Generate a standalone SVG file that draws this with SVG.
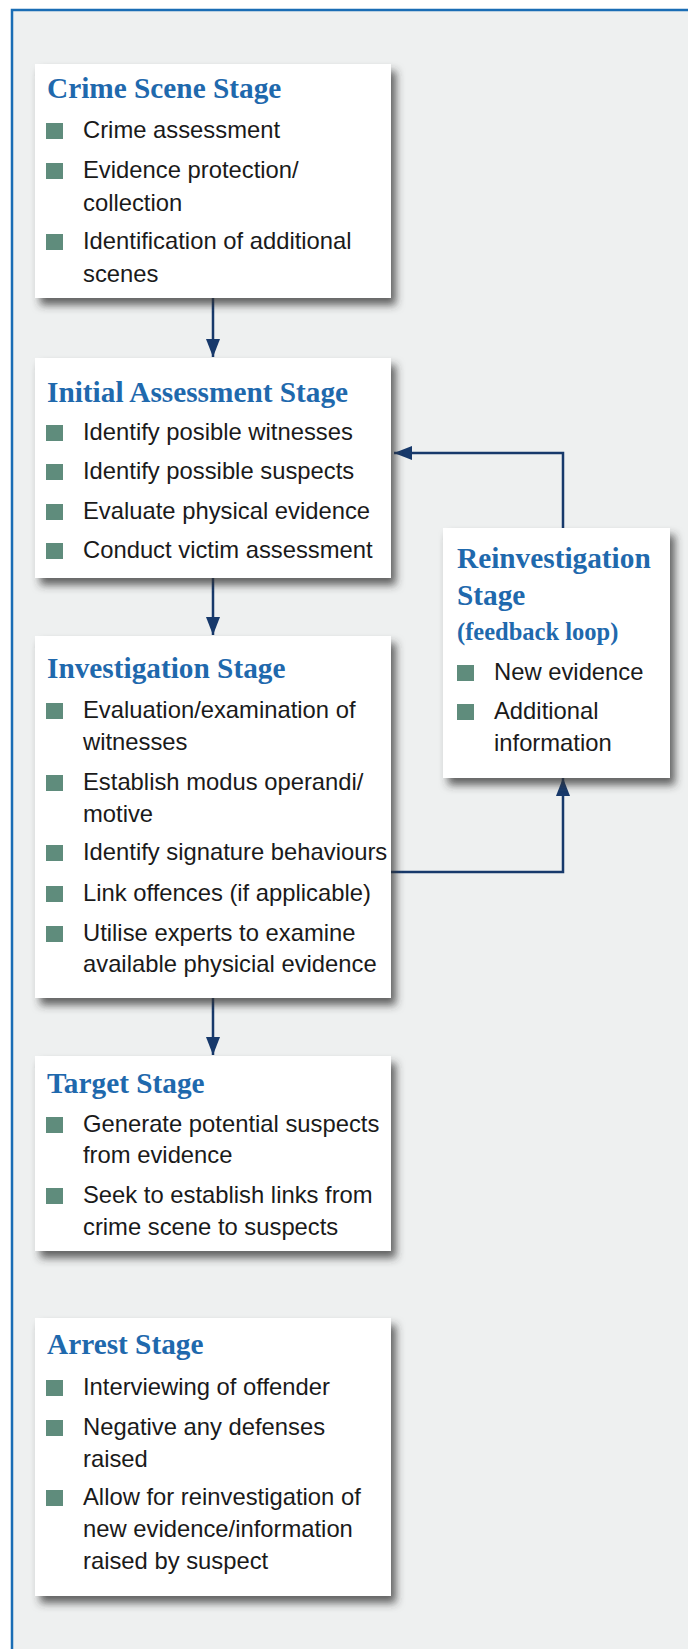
<svg xmlns="http://www.w3.org/2000/svg" width="688" height="1649" viewBox="0 0 688 1649">
<defs>
<style>
.bg{fill:#eef0f0}
.frame{fill:none;stroke:#1a6db5;stroke-width:2.5}
.box{fill:#ffffff;filter:url(#sh)}
.title{font-family:"Liberation Serif",serif;font-weight:bold;font-size:29.3px;fill:#1f69ad}
.sub{font-family:"Liberation Serif",serif;font-weight:bold;font-size:24.5px;fill:#1f69ad}
.t{font-family:"Liberation Sans",Arial,sans-serif;font-size:23.8px;fill:#1a1a1a}
.b{fill:#5f8c7c}
.con{fill:none;stroke:#17396b;stroke-width:2.5}
</style>
<filter id="sh" x="-10%" y="-10%" width="130%" height="130%">
<feDropShadow dx="5" dy="7" stdDeviation="4" flood-color="#333333" flood-opacity="0.75"/>
</filter>
<marker id="arr" markerUnits="userSpaceOnUse" markerWidth="20" markerHeight="16" refX="18" refY="7" orient="auto">
<path d="M0,0 L18,7 L0,14 Z" fill="#17396b"/>
</marker>
</defs>
<rect x="0" y="0" width="688" height="1649" fill="#ffffff"/>
<rect class="bg" x="12" y="10" width="676" height="1639"/>
<path class="frame" d="M12,1649 V10 H688"/>

<g id="connectors">
<path class="con" d="M213,298 V357" marker-end="url(#arr)"/>
<path class="con" d="M213,578 V635" marker-end="url(#arr)"/>
<path class="con" d="M213,998 V1055" marker-end="url(#arr)"/>
<path class="con" d="M391,872 H563 V778" marker-end="url(#arr)"/>
<path class="con" d="M563,528 V453 H394" marker-end="url(#arr)"/>
</g>

<g id="crime-scene">
<rect class="box" x="35" y="64" width="356" height="234"/>
<text class="title" x="47" y="98">Crime Scene Stage</text>
<rect class="b" x="46" y="123" width="17" height="16"/>
<text class="t" x="83" y="138">Crime assessment</text>
<rect class="b" x="46" y="163" width="17" height="16"/>
<text class="t" x="83" y="178">Evidence protection/</text>
<text class="t" x="83" y="211">collection</text>
<rect class="b" x="46" y="234" width="17" height="16"/>
<text class="t" x="83" y="249">Identification of additional</text>
<text class="t" x="83" y="282">scenes</text>
</g>

<g id="initial-assessment">
<rect class="box" x="35" y="358" width="356" height="220"/>
<text class="title" x="47" y="402">Initial Assessment Stage</text>
<rect class="b" x="46" y="425" width="17" height="16"/>
<text class="t" x="83" y="440">Identify posible witnesses</text>
<rect class="b" x="46" y="464" width="17" height="16"/>
<text class="t" x="83" y="479">Identify possible suspects</text>
<rect class="b" x="46" y="504" width="17" height="16"/>
<text class="t" x="83" y="519">Evaluate physical evidence</text>
<rect class="b" x="46" y="543" width="17" height="16"/>
<text class="t" x="83" y="558">Conduct victim assessment</text>
</g>

<g id="investigation">
<rect class="box" x="35" y="636" width="356" height="362"/>
<text class="title" x="47" y="678">Investigation Stage</text>
<rect class="b" x="46" y="703" width="17" height="16"/>
<text class="t" x="83" y="718">Evaluation/examination of</text>
<text class="t" x="83" y="750">witnesses</text>
<rect class="b" x="46" y="775" width="17" height="16"/>
<text class="t" x="83" y="790">Establish modus operandi/</text>
<text class="t" x="83" y="822">motive</text>
<rect class="b" x="46" y="845" width="17" height="16"/>
<text class="t" x="83" y="860">Identify signature behaviours</text>
<rect class="b" x="46" y="886" width="17" height="16"/>
<text class="t" x="83" y="901">Link offences (if applicable)</text>
<rect class="b" x="46" y="926" width="17" height="16"/>
<text class="t" x="83" y="941">Utilise experts to examine</text>
<text class="t" x="83" y="972">available physicial evidence</text>
</g>

<g id="reinvestigation">
<rect class="box" x="443" y="528" width="227" height="250"/>
<text class="title" x="457" y="568">Reinvestigation</text>
<text class="title" x="457" y="605">Stage</text>
<text class="sub" x="457" y="640">(feedback loop)</text>
<rect class="b" x="457" y="665" width="17" height="16"/>
<text class="t" x="494" y="680">New evidence</text>
<rect class="b" x="457" y="704" width="17" height="16"/>
<text class="t" x="494" y="719">Additional</text>
<text class="t" x="494" y="751">information</text>
</g>

<g id="target">
<rect class="box" x="35" y="1056" width="356" height="195"/>
<text class="title" x="47" y="1093">Target Stage</text>
<rect class="b" x="46" y="1117" width="17" height="16"/>
<text class="t" x="83" y="1132">Generate potential suspects</text>
<text class="t" x="83" y="1163">from evidence</text>
<rect class="b" x="46" y="1188" width="17" height="16"/>
<text class="t" x="83" y="1203">Seek to establish links from</text>
<text class="t" x="83" y="1235">crime scene to suspects</text>
</g>

<g id="arrest">
<rect class="box" x="35" y="1318" width="356" height="278"/>
<text class="title" x="47" y="1354">Arrest Stage</text>
<rect class="b" x="46" y="1380" width="17" height="16"/>
<text class="t" x="83" y="1395">Interviewing of offender</text>
<rect class="b" x="46" y="1420" width="17" height="16"/>
<text class="t" x="83" y="1435">Negative any defenses</text>
<text class="t" x="83" y="1467">raised</text>
<rect class="b" x="46" y="1490" width="17" height="16"/>
<text class="t" x="83" y="1505">Allow for reinvestigation of</text>
<text class="t" x="83" y="1537">new evidence/information</text>
<text class="t" x="83" y="1569">raised by suspect</text>
</g>
</svg>
